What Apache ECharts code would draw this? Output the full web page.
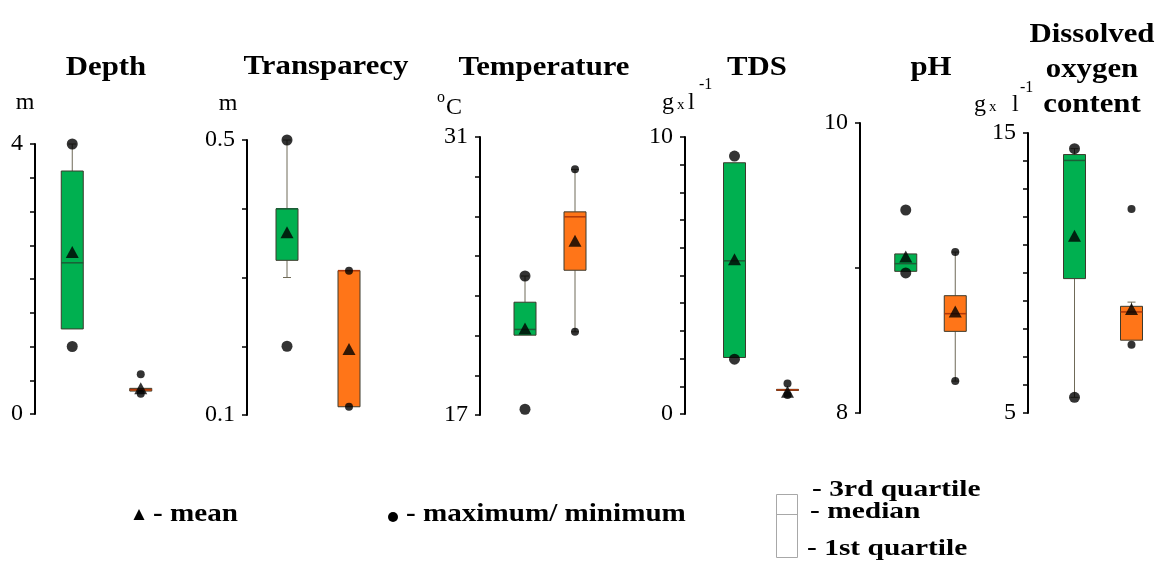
<!DOCTYPE html>
<html><head><meta charset="utf-8">
<script src="https://cdn.jsdelivr.net/npm/echarts@6/dist/echarts.min.js"></script>
<style>html,body{margin:0;padding:0;background:#fff}#c{width:1161px;height:566px}</style>
</head><body><div id="c"></div>
<script>
// ---------- data ----------
const parameters = ['Depth', 'Transparecy', 'Temperature', 'TDS', 'pH', 'Dissolved\noxygen\ncontent'];
const groups = ['Green', 'Orange'];
const axisMin = [0, 0.1, 17, 0, 8, 5];
const axisMax = [4, 0.5, 31, 10, 10, 15];
const axisStep = [0.5, 0.1, 2, 1, 1, 1];
const tickLabels = [['0', '4'], ['0.1', '0.5'], ['17', '31'], ['0', '10'], ['8', '10'], ['5', '15']];

// green group
const greenMax = [4.0, 0.5, 24.0, 9.31, 9.40, 14.44];
const greenMin = [1.0, 0.2, 17.29, 1.98, 8.966, 5.56];
const greenWhiskerHigh = [4.0, 0.5, 24.0, 9.07, 9.097, 14.44];
const greenQ3 = [3.6, 0.4, 22.68, 9.07, 9.097, 14.23];
const greenMedian = [2.24, 0.4, 21.31, 5.53, 9.03, 14.02];
const greenQ1 = [1.26, 0.325, 21.02, 2.04, 8.977, 9.80];
const greenWhiskerLow = [1.26, 0.3, 21.02, 2.04, 8.977, 5.56];
const greenMean = [2.4, 0.366, 21.36, 5.59, 9.08, 11.33];

// orange group
const orangeMax = [0.59, 0.31, 29.37, 1.1, 9.11, 12.29];
const orangeMin = [0.30, 0.112, 21.19, 0.69, 8.22, 7.44];
const orangeWhiskerHigh = [0.38, 0.31, 29.37, 0.89, 9.11, 8.96];
const orangeQ3 = [0.38, 0.31, 27.23, 0.89, 8.809, 8.81];
const orangeMedian = [0.36, 0.31, 26.98, 0.87, 8.685, 8.61];
const orangeQ1 = [0.34, 0.112, 24.29, 0.85, 8.563, 7.6];
const orangeWhiskerLow = [0.34, 0.112, 21.19, 0.85, 8.22, 7.6];
const orangeMean = [0.38, 0.196, 25.77, 0.8, 8.70, 8.71];

// ---------- layout ----------
const gridLeft = [38, 256, 500, 708, 881, 1046];
const gridWidth = [137, 124, 100, 106, 99, 114];
const gridTop = [144, 140, 137, 137, 123, 133];
const gridBottom = [152, 151, 151, 152, 153, 153];
const axisOffset = [3, 9, 20, 23, 21, 18];

const fills = ['#00b050', '#ff7518'];
const medianColors = ['#1b5e36', '#b0380a'];
const SERIF = '"Liberation Serif", "Times New Roman", serif';

function boxRenderer(params, api) {
  const cat = api.value(0);
  const wl = api.coord([cat, api.value(1)]);
  const q1 = api.coord([cat, api.value(2)]);
  const md = api.coord([cat, api.value(3)]);
  const q3 = api.coord([cat, api.value(4)]);
  const wh = api.coord([cat, api.value(5)]);
  const x = q1[0], hw = 11, cw = 4;
  const ls = { stroke: '#6f6a58', lineWidth: 1 };
  const ch = [];
  if (wh[1] < q3[1] - 0.5) {
    ch.push({ type: 'line', shape: { x1: x, y1: q3[1], x2: x, y2: wh[1] }, style: ls });
    ch.push({ type: 'line', shape: { x1: x - cw, y1: wh[1], x2: x + cw, y2: wh[1] }, style: ls });
  }
  if (wl[1] > q1[1] + 0.5) {
    ch.push({ type: 'line', shape: { x1: x, y1: q1[1], x2: x, y2: wl[1] }, style: ls });
    ch.push({ type: 'line', shape: { x1: x - cw, y1: wl[1], x2: x + cw, y2: wl[1] }, style: ls });
  }
  ch.push({ type: 'rect', shape: { x: x - hw, y: q3[1], width: 2 * hw, height: Math.max(q1[1] - q3[1], 1) },
    style: { fill: fills[cat], stroke: '#3c3a2c', lineWidth: 1 } });
  ch.push({ type: 'line', shape: { x1: x - hw, y1: md[1], x2: x + hw, y2: md[1] },
    style: { stroke: medianColors[cat], lineWidth: 1.5 } });
  return { type: 'group', children: ch };
}

const grids = [], xAxes = [], yAxes = [], series = [];
parameters.forEach((p, i) => {
  grids.push({ left: gridLeft[i], width: gridWidth[i], top: gridTop[i], bottom: gridBottom[i] });
  xAxes.push({ type: 'category', gridIndex: i, data: groups, show: false, boundaryGap: true });
  yAxes.push({
    type: 'value', gridIndex: i, min: axisMin[i], max: axisMax[i], interval: axisStep[i],
    offset: axisOffset[i],
    axisLine: { show: true, lineStyle: { color: '#000', width: 2 } },
    axisTick: { show: true, length: 5, interval: 0, lineStyle: { color: '#000', width: 1.5 } },
    splitLine: { show: false },
    axisLabel: {
      interval: 0, margin: 12, color: '#000', fontFamily: SERIF, fontSize: 24,
      showMinLabel: true, showMaxLabel: true,
      formatter: v => Math.abs(v - axisMin[i]) < 1e-6 ? tickLabels[i][0]
        : (Math.abs(v - axisMax[i]) < 1e-6 ? tickLabels[i][1] : '')
    }
  });
  series.push({
    type: 'custom', name: p + ' box', xAxisIndex: i, yAxisIndex: i, z: 2,
    renderItem: boxRenderer, encode: { x: 0, y: [1, 2, 3, 4, 5] },
    data: [
      [0, greenWhiskerLow[i], greenQ1[i], greenMedian[i], greenQ3[i], greenWhiskerHigh[i]],
      [1, orangeWhiskerLow[i], orangeQ1[i], orangeMedian[i], orangeQ3[i], orangeWhiskerHigh[i]]
    ]
  });
  series.push({
    type: 'scatter', name: 'maximum/ minimum', xAxisIndex: i, yAxisIndex: i, z: 3,
    symbol: 'circle', symbolSize: v => v[0] === 0 ? 11 : 8,
    itemStyle: { color: '#000' },
    data: [[0, greenMax[i]], [0, greenMin[i]], [1, orangeMax[i]], [1, orangeMin[i]]]
  });
  series.push({
    type: 'scatter', name: 'mean', xAxisIndex: i, yAxisIndex: i, z: 4,
    symbol: 'triangle', symbolSize: [13, 12],
    itemStyle: { color: '#000' },
    data: [[0, greenMean[i]], [1, orangeMean[i]]]
  });
});

// ---------- text graphics ----------
function txt(x, y, text, font, align, sx, extra) {
  return Object.assign({
    type: 'text', x: x, y: y, scaleX: sx || 1, z: 10,
    style: { text: text, font: font, fill: '#000', align: align || 'center', verticalAlign: 'middle' }
  }, extra || {});
}
const titleFont = 'bold 28px ' + SERIF;
const titleX = [106, 326, 544, 757, 931, 1092];
const titleY = [67.5, 66.5, 67.5, 67.5, 67.5, 69.5];
const graphics = [];
parameters.forEach((p, i) => {
  const g = txt(titleX[i], titleY[i], p, titleFont, 'center', 1.1);
  g.style.lineHeight = 35;
  graphics.push(g);
});
const unitFont = '24px ' + SERIF;
const supFont = '16px ' + SERIF;
const xFont = '15px ' + SERIF;
// units
graphics.push(txt(25, 103, 'm', unitFont, 'center'));
graphics.push(txt(228, 104, 'm', unitFont, 'center'));
graphics.push(txt(441, 98, 'o', supFont, 'center'));
graphics.push(txt(446, 108, 'C', unitFont, 'left'));
graphics.push(txt(662, 103, 'g', unitFont, 'left'));
graphics.push(txt(677, 105, 'x', xFont, 'left'));
graphics.push(txt(688, 103, 'l', unitFont, 'left'));
graphics.push(txt(699, 85, '-1', supFont, 'left'));
graphics.push(txt(974, 105, 'g', unitFont, 'left'));
graphics.push(txt(989, 107, 'x', xFont, 'left'));
graphics.push(txt(1012, 105, 'l', unitFont, 'left'));
graphics.push(txt(1020, 88, '-1', supFont, 'left'));
// legend
const legFont = 'bold 26px ' + SERIF;
graphics.push({ type: 'polygon', shape: { points: [[133.5, 520], [144.5, 520], [139, 509]] }, style: { fill: '#000' } });
graphics.push(txt(153, 514, '- mean', legFont, 'left', 1.12));
graphics.push({ type: 'circle', shape: { cx: 393, cy: 517, r: 5 }, style: { fill: '#000' } });
graphics.push(txt(406, 514, '- maximum/ minimum', legFont, 'left', 1.12));
const boxLegFont = 'bold 23px ' + SERIF;
graphics.push({ type: 'rect', shape: { x: 776.5, y: 494.5, width: 21, height: 63 }, style: { fill: 'none', stroke: '#a8a8a8', lineWidth: 1 } });
graphics.push({ type: 'line', shape: { x1: 776.5, y1: 514.5, x2: 797.5, y2: 514.5 }, style: { stroke: '#a8a8a8', lineWidth: 1 } });
graphics.push(txt(812, 490, '- 3rd quartile', boxLegFont, 'left', 1.28));
graphics.push(txt(810, 512, '- median', boxLegFont, 'left', 1.28));
graphics.push(txt(807, 549, '- 1st quartile', boxLegFont, 'left', 1.28));

const chart = echarts.init(document.getElementById('c'), null, { renderer: 'canvas' });
chart.setOption({
  animation: false,
  backgroundColor: '#fff',
  grid: grids, xAxis: xAxes, yAxis: yAxes, series: series,
  graphic: graphics
});
</script></body></html>
